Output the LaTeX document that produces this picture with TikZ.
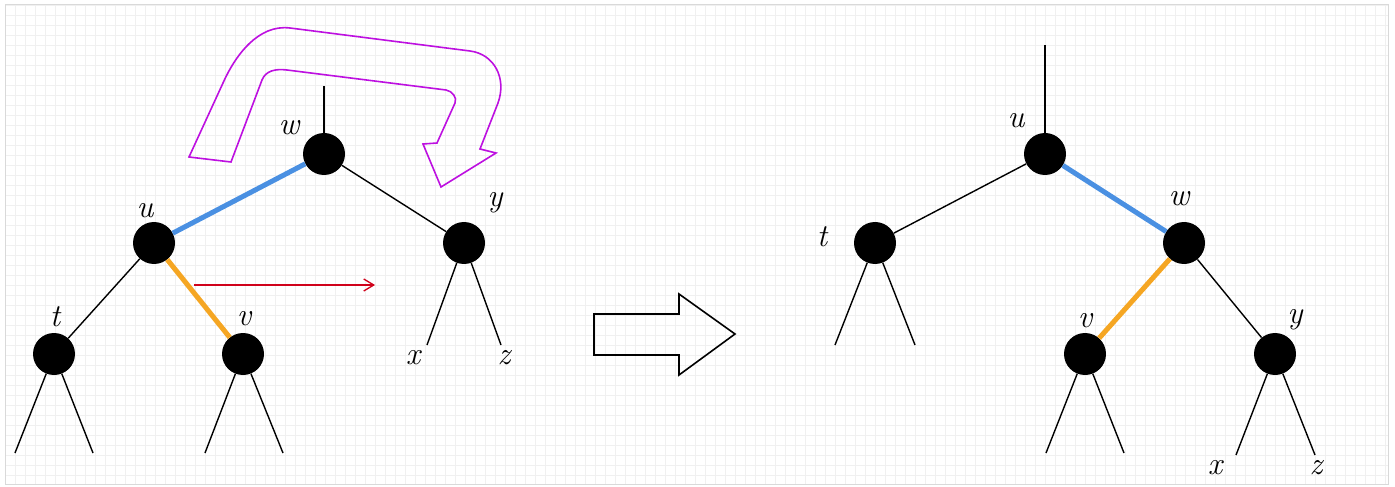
\documentclass[tikz,border=0pt]{standalone}
\usepackage{fontspec}
\usepackage{xcolor}
\definecolor{edgeblue}{RGB}{74,144,226}
\definecolor{edgeorange}{RGB}{245,166,35}
\definecolor{rotred}{RGB}{208,2,27}
\definecolor{rotpurple}{RGB}{189,16,224}
\usetikzlibrary{arrows.meta}
\tikzset{
  treenode/.style={circle,fill=black,minimum size=42bp,inner sep=0pt},
  treelabel/.style={font=\fontsize{32}{36}\selectfont\itshape,inner sep=0pt},
  treeedge/.style={line width=1.4bp,black},
  heavyedge/.style={line width=5bp},
  gridbg/.style={black!6,line width=0.6bp}
}

\begin{document}
\begin{tikzpicture}[x=1bp,y=-1bp]
\useasboundingbox (0,0) rectangle (1395,487);
\foreach \gx in {5,15,...,1385} \draw[gridbg] (\gx,5) -- (\gx,484);
\foreach \gy in {5,15,...,475} \draw[gridbg] (5,\gy) -- (1388,\gy);
\draw[black!15,line width=1bp] (5,5) rectangle (1388,484);

% before the rotation
\node[treenode] (w1) at (324,154) {};
\node[treenode] (u1) at (154,243) {};
\node[treenode] (y1) at (464,243) {};
\node[treenode] (t1) at (54,354) {};
\node[treenode] (v1) at (243,354) {};
\coordinate (w1top) at (324,86);
\coordinate (t1l) at (15,453);
\coordinate (t1r) at (93,453);
\coordinate (v1l) at (205,453);
\coordinate (v1r) at (283,453);
\coordinate (y1l) at (427,345);
\coordinate (y1r) at (501,345);
\node[treelabel] (w1lab) at (289,128) {w};
\node[treelabel] (u1lab) at (145,211) {u};
\node[treelabel] (y1lab) at (495,203) {y};
\node[treelabel] (t1lab) at (55,317) {t};
\node[treelabel] (v1lab) at (244,319) {v};
\node[treelabel] (x1lab) at (413,358) {x};
\node[treelabel] (z1lab) at (504,358) {z};
\draw[treeedge] (w1) -- (w1top);
\draw[heavyedge,edgeblue] (w1) -- (u1);
\draw[treeedge] (w1) -- (y1);
\draw[treeedge] (u1) -- (t1);
\draw[heavyedge,edgeorange] (u1) -- (v1);
\draw[treeedge] (t1) -- (t1l);
\draw[treeedge] (t1) -- (t1r);
\draw[treeedge] (v1) -- (v1l);
\draw[treeedge] (v1) -- (v1r);
\draw[treeedge] (y1) -- (y1l);
\draw[treeedge] (y1) -- (y1r);

% subtree v moves over
\coordinate (ra) at (194,285);
\coordinate (rb) at (375,285);
\draw[rotred,line width=1.3bp,-{Straight Barb[length=10bp,width=12bp]}] (ra) -- (rb);

% rotation arrow
\draw[rotpurple,line width=1.6bp,line join=miter]
  (189,157) -- (223,83) .. controls (235,56) and (258,24) .. (290,28)
  -- (470,51) .. controls (494,54) and (507,78) .. (498,103)
  -- (480,149) -- (496,153) -- (441,187) -- (423,144) -- (437,143) -- (455,103)
  .. controls (457.5,97.5) and (452,91) .. (446,90)
  -- (287,70) .. controls (275,68.5) and (265.5,71) .. (262,80)
  -- (231,162) -- cycle;

% big arrow
\draw[line width=1.6bp,line join=miter] (594,314) -- (679,314) -- (679,294)
  -- (735,334) -- (679,375) -- (679,355) -- (594,355) -- cycle;

% after the rotation
\node[treenode] (u2) at (1045,154) {};
\node[treenode] (t2) at (875,243) {};
\node[treenode] (w2) at (1184,243) {};
\node[treenode] (v2) at (1085,354) {};
\node[treenode] (y2) at (1275,354) {};
\coordinate (u2top) at (1045,45);
\coordinate (t2l) at (835,345);
\coordinate (t2r) at (915,345);
\coordinate (v2l) at (1046,453);
\coordinate (v2r) at (1124,453);
\coordinate (y2l) at (1236,455);
\coordinate (y2r) at (1315,455);
\node[treelabel] (u2lab) at (1016,121) {u};
\node[treelabel] (t2lab) at (822,237) {t};
\node[treelabel] (w2lab) at (1179,199) {w};
\node[treelabel] (v2lab) at (1085,321) {v};
\node[treelabel] (y2lab) at (1295,320) {y};
\node[treelabel] (x2lab) at (1215,468) {x};
\node[treelabel] (z2lab) at (1316,468) {z};
\draw[treeedge] (u2) -- (u2top);
\draw[treeedge] (u2) -- (t2);
\draw[heavyedge,edgeblue] (u2) -- (w2);
\draw[heavyedge,edgeorange] (w2) -- (v2);
\draw[treeedge] (w2) -- (y2);
\draw[treeedge] (t2) -- (t2l);
\draw[treeedge] (t2) -- (t2r);
\draw[treeedge] (v2) -- (v2l);
\draw[treeedge] (v2) -- (v2r);
\draw[treeedge] (y2) -- (y2l);
\draw[treeedge] (y2) -- (y2r);
\end{tikzpicture}
\end{document}
